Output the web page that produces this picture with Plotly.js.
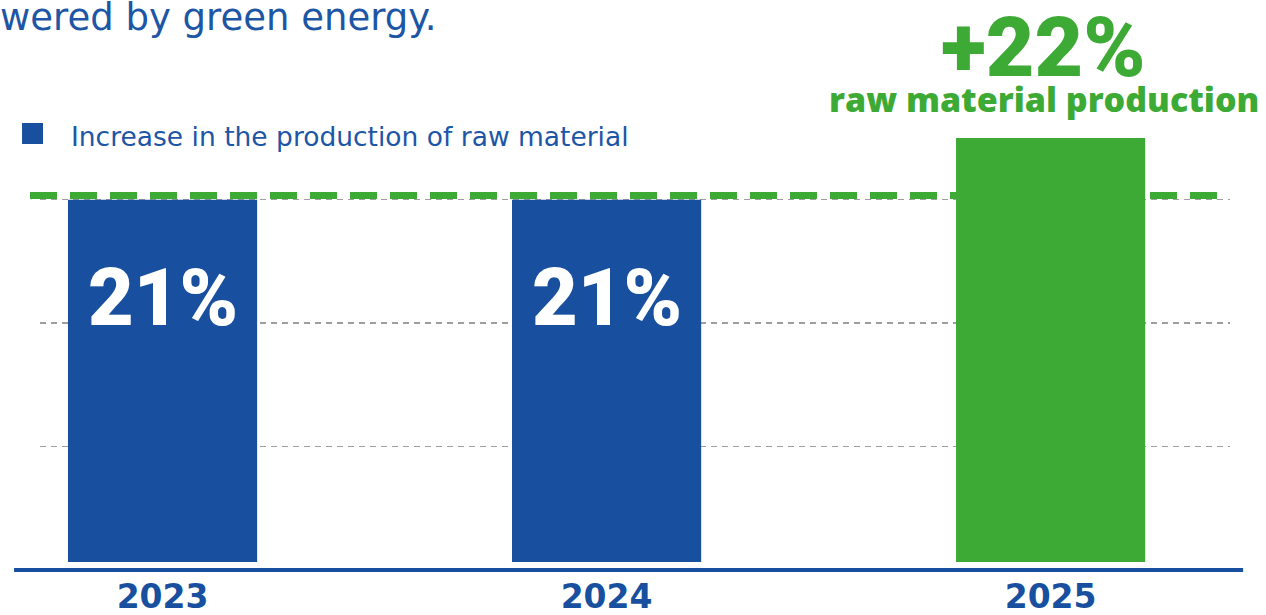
<!DOCTYPE html>
<html>
<head>
<meta charset="utf-8">
<script src="https://cdn.plot.ly/plotly-3.0.1.min.js"></script>
<style>html,body{margin:0;padding:0;background:#fff;}#chart{width:1266px;height:615px;}</style>
</head>
<body>
<div id="chart"></div>
<script>
// ---- data ----
const years = ['2023', '2024', '2025'];
const values = [21, 21, 22];
const barColors = ['#18509f', '#18509f', '#3daa35'];
const barLabels = ['21%', '21%', ''];
const highlightLabel = '+22%';
const highlightSub = 'raw material production';
const legendLabel = 'Increase in the production of raw material';
const titleText = 'wered by green energy.';
const gridValues = [17, 19, 21];
const referenceLevel = 21.07;

const BLUE = '#18509f';
const TEXTBLUE = '#1d56a5';
const GREEN = '#3daa35';
const BOLDFONT = 'Roboto, "Open Sans", sans-serif';
const WIDEBOLD = '"Open Sans", Roboto, sans-serif';
const TEXTFONT = '"DejaVu Sans", "Open Sans", sans-serif';

const annotations = [];
years.forEach((y, i) => {
  if (barLabels[i]) {
    annotations.push({
      x: i, y: values[i], xref: 'x', yref: 'y',
      text: barLabels[i], showarrow: false,
      yanchor: 'middle', yshift: -98,
      font: {family: BOLDFONT, size: 79, color: '#ffffff', weight: 900}
    });
  }
});
const hi = values.length - 1;
annotations.push({
  x: hi, y: values[hi], xref: 'x', yref: 'y',
  text: highlightLabel, showarrow: false, yanchor: 'middle', yshift: 91, xshift: -7,
  font: {family: BOLDFONT, size: 84, color: GREEN, weight: 900}
});
annotations.push({
  x: hi, y: values[hi], xref: 'x', yref: 'y',
  text: highlightSub, showarrow: false, yanchor: 'middle', yshift: 39, xshift: -7,
  font: {family: WIDEBOLD, size: 34, color: GREEN, weight: 800}
});
annotations.push({
  x: 0.0244, y: 1.0047, xref: 'paper', yref: 'paper',
  text: legendLabel, showarrow: false, xanchor: 'left', yanchor: 'middle',
  font: {family: TEXTFONT, size: 26.5, color: TEXTBLUE}
});

const trace = {
  type: 'bar',
  x: years,
  y: values,
  width: 0.426,
  marker: {color: barColors},
  hoverinfo: 'x+y',
  showlegend: false
};

const layout = {
  width: 1266, height: 615,
  margin: {l: 40, r: 36, t: 138, b: 53, pad: 0},
  paper_bgcolor: '#ffffff', plot_bgcolor: '#ffffff',
  showlegend: false,
  title: {
    text: titleText, x: 0, xref: 'container', xanchor: 'left',
    y: 1 - 17 / 615, yref: 'container', yanchor: 'middle',
    font: {family: TEXTFONT, size: 37, color: TEXTBLUE}
  },
  xaxis: {
    type: 'category', range: [-0.276, 2.404],
    showgrid: false, zeroline: false, showline: false,
    ticks: 'outside', ticklen: 5, tickcolor: 'rgba(0,0,0,0)',
    tickfont: {family: '"DejaVu Sans", sans-serif', size: 33, color: BLUE, weight: 'bold'}
  },
  yaxis: {
    range: [15.13, 22], tickvals: gridValues, showticklabels: false,
    showgrid: true, gridcolor: '#9e9e9e', gridwidth: 1.5, griddash: '6px,5px',
    zeroline: false, showline: false
  },
  shapes: [
    {type: 'line', xref: 'paper', yref: 'y', x0: -0.0084, x1: 0.994, y0: referenceLevel, y1: referenceLevel,
     line: {color: GREEN, width: 7, dash: '27px,13px'}, layer: 'below'},
    {type: 'line', xref: 'paper', yref: 'paper', x0: -0.0218, x1: 1.011, y0: -0.0189, y1: -0.0189,
     line: {color: BLUE, width: 4}},
    {type: 'rect', xref: 'paper', yref: 'paper', x0: -0.0151, x1: 0.0025, y0: 0.9858, y1: 1.0354,
     fillcolor: BLUE, line: {width: 0}}
  ],
  annotations: annotations
};

Plotly.newPlot('chart', [trace], layout, {displayModeBar: false, staticPlot: true});
</script>
</body>
</html>
